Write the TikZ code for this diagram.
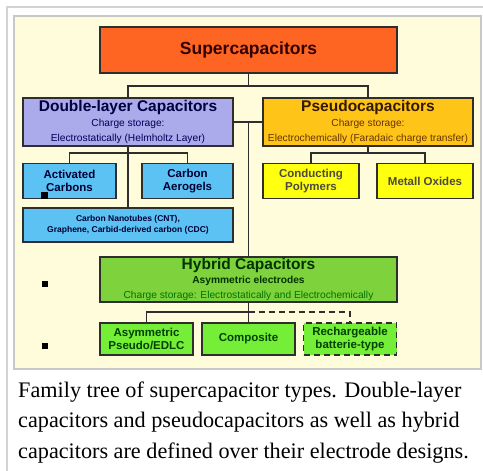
\documentclass[tikz,border=0pt]{standalone}
\usepackage{fontspec}
\setmainfont{Liberation Sans}
\newfontfamily\capfont{Liberation Serif}
\usetikzlibrary{positioning}
\definecolor{CapBack}{HTML}{FFFCDC}
\definecolor{CapFrame}{HTML}{C8C8C8}
\definecolor{CapEdge}{HTML}{2E2E2E}
\definecolor{CapOrange}{HTML}{FF6522}
\definecolor{CapLavender}{HTML}{ABABEC}
\definecolor{CapGold}{HTML}{FFC418}
\definecolor{CapSky}{HTML}{5CC2F4}
\definecolor{CapYellow}{HTML}{FFFF10}
\definecolor{CapGreen}{HTML}{7ED23C}
\definecolor{CapLime}{HTML}{74EE36}
\newcommand{\notefont}{\mdseries\fontsize{10.2}{11}\selectfont}

\begin{document}
\begin{tikzpicture}[
    x=1pt,
    y=-1pt,
    box/.style={draw=CapEdge, line width=1.8pt, align=center, inner sep=1pt},
    family/.style={box, font=\bfseries\fontsize{15.5}{17}\selectfont},
    kind/.style={box, font=\bfseries\fontsize{11.5}{13.5}\selectfont, minimum height=35, text=black!80!blue},
    hybridkind/.style={box, fill=CapLime, font=\bfseries\fontsize{11.5}{13}\selectfont, minimum width=93, minimum height=32, text=black!75!green},
    link/.style={draw=CapEdge, line width=1.8pt},
    bullet/.style={fill=black, inner sep=0pt, minimum size=7}
  ]
    \useasboundingbox (0,0) rectangle (483,471);
    \draw[CapFrame!80, line width=2pt] (7,471) -- (7,7) -- (483,7);
    \draw[CapFrame, fill=CapBack, line width=2pt] (14,16) rectangle (481,369);

    \node[box, fill=CapOrange, minimum width=297, minimum height=46, font=\bfseries\fontsize{17.5}{20}\selectfont, text=black!80!red] (sc) at (248.5,50) {Supercapacitors};

    \node[family, fill=CapLavender, minimum width=210, minimum height=48, text=black!75!blue] (dl) at (128,122) {Double-layer Capacitors\\[-2pt]{\notefont\color{black!65!blue}Charge storage:}\\[-2pt]{\notefont\color{black!65!blue}Electrostatically (Helmholtz  Layer)}};
    \node[family, fill=CapGold, minimum width=210, minimum height=48, text=black!80!orange] (pseudo) at (368,122) {Pseudocapacitors\\[-2pt]{\notefont\color{black!60!orange}Charge storage:}\\[-2pt]{\notefont\color{black!60!orange}Electrochemically  (Faradaic charge transfer)}};

    \node[kind, fill=CapSky, minimum width=93] (ac) at (69.5,181) {Activated\\Carbons};
    \node[kind, fill=CapSky, minimum width=91] (ca) at (187.5,181) {Carbon\\Aerogels};
    \node[box, fill=CapSky, minimum width=210, minimum height=34, font=\bfseries\fontsize{8.5}{11}\selectfont, text=black!80!blue] (cnt) at (128,225) {Carbon Nanotubes (CNT),\\Graphene, Carbid-derived carbon (CDC)};
    \node[kind, fill=CapYellow, minimum width=96, text=black!80!yellow] (cp) at (311,181) {Conducting\\Polymers};
    \node[kind, fill=CapYellow, minimum width=96, text=black!80!yellow] (mo) at (425,181) {Metall Oxides};

    \node[family, fill=CapGreen, minimum width=297, minimum height=45, text=black!80!green] (hybrid) at (248.5,279.5) {Hybrid Capacitors\\[-3pt]{\notefont\bfseries Asymmetric electrodes}\\[-2pt]{\notefont\color{black!55!green}Charge storage: Electrostatically and Electrochemically}};

    \node[hybridkind] (asym) at (146.5,339) {Asymmetric\\Pseudo/EDLC};
    \node[hybridkind] (comp) at (248.5,339) {Composite};
    \node[hybridkind, dashed, dash pattern=on 6pt off 4pt] (rech) at (350,339) {Rechargeable\\batterie-type};

    \node[bullet] (m1) at (44.5,195.5) {};
    \node[bullet, minimum size=6] (m2) at (44.5,284) {};
    \node[bullet, minimum size=6] (m3) at (44.5,345.5) {};

    \coordinate (top) at (248.5,86);
    \coordinate (dlfork) at (128,153);
    \coordinate (pfork) at (368,153);
    \coordinate (hfork) at (248.5,312);

    \draw[link] (sc) -- (top);
    \draw[link] (dl.north) |- (top) -| (pseudo.north);
    \draw[link] (dl.east) -- (pseudo.west);
    \draw[link] (dl.east -| hybrid.north) -- (hybrid.north);
    \draw[link] (dl.south) -- (cnt.north);
    \draw[link] (ac.north) |- (dlfork) -| (ca.north);
    \draw[link] (pseudo.south) -- (pfork);
    \draw[link] (cp.north) |- (pfork) -| (mo.north);
    \draw[link] (hybrid.south) -- (comp.north);
    \draw[link] (asym.north) |- (hfork);
    \draw[link, dash pattern=on 6pt off 4pt] (hfork) -| (rech.north);

    \node[anchor=base west, align=left, font=\capfont\fontsize{22.2}{30.5}\selectfont, inner sep=0pt] (caption) at (18,458) {Family tree of supercapacitor types. Double-layer\\capacitors and pseudocapacitors as well as hybrid\\capacitors are defined over their electrode designs.};
  \end{tikzpicture}
\end{document}
